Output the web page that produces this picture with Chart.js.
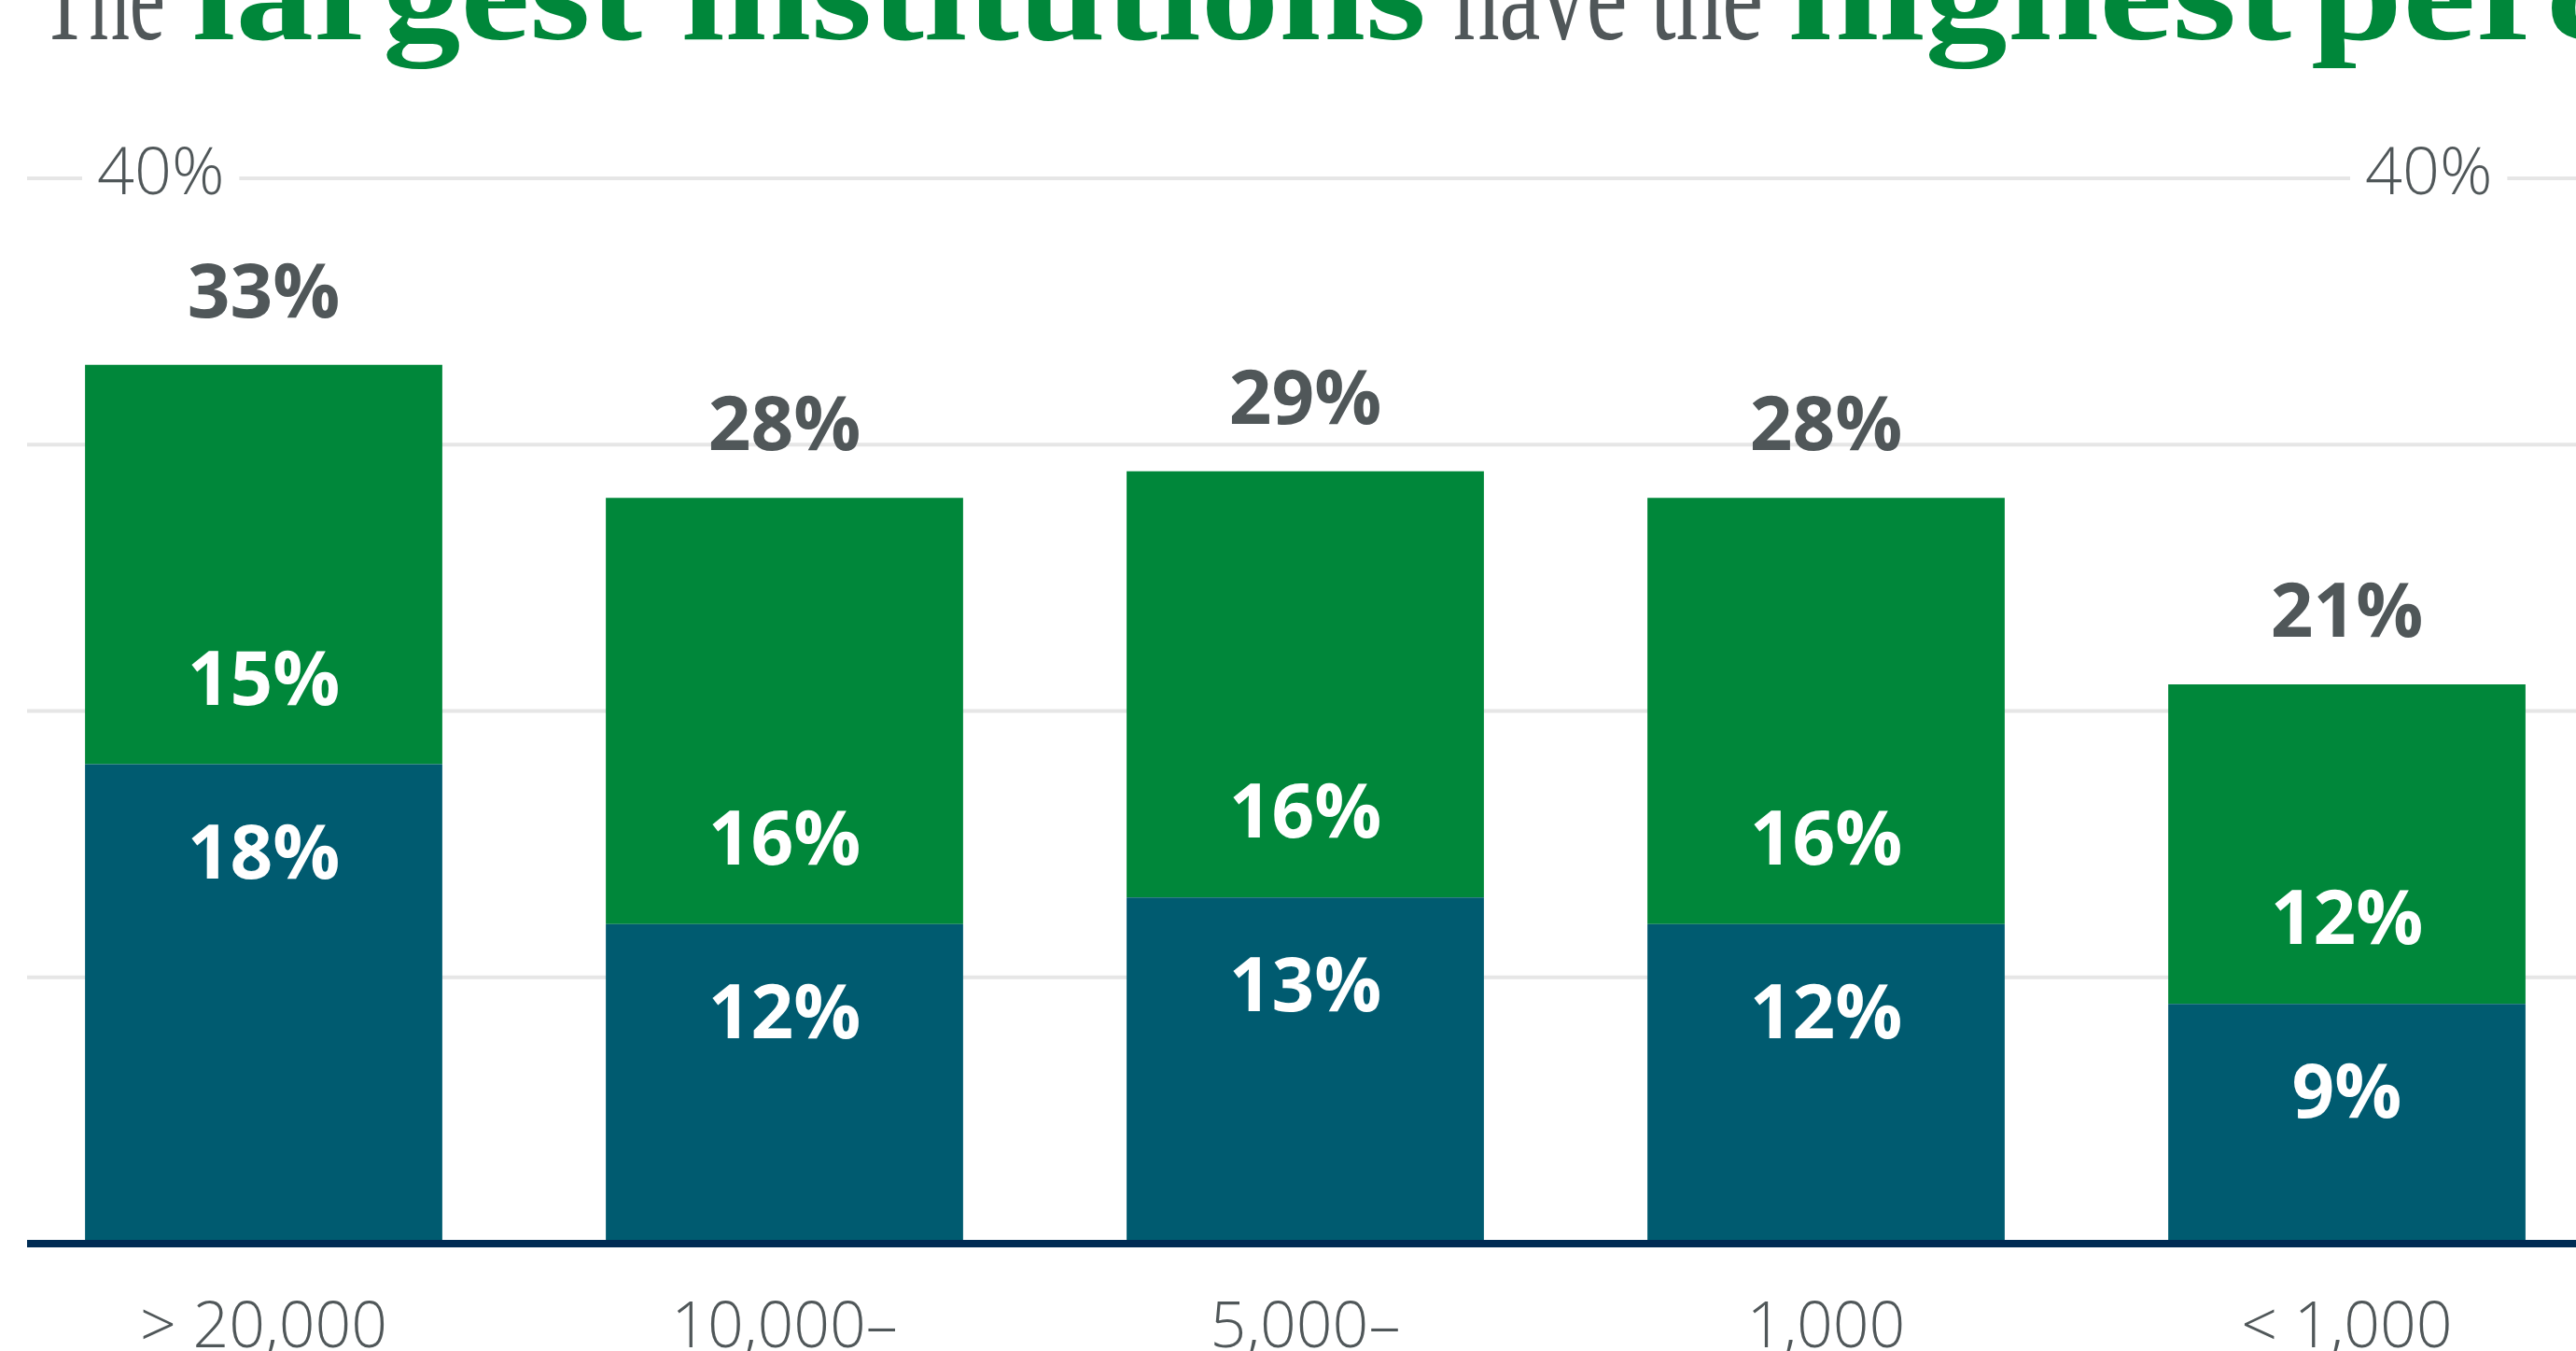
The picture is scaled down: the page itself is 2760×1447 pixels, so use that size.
<!DOCTYPE html>
<html>
<head>
<meta charset="utf-8">
<script src="https://cdn.jsdelivr.net/npm/chart.js@4.4.1/dist/chart.umd.min.js"></script>
<style>
    html, body { margin: 0; padding: 0; background: #fff; overflow: hidden; }
    #wrap { position: relative; width: 2800px; height: 1500px; }
</style>
</head>
<body>
<div id="wrap"><canvas id="chart" width="2800" height="1500"></canvas></div>
<script>
// Chart data
const categories = ['> 20,000', '10,000–', '5,000–', '1,000', '< 1,000'];
const blueValues = [18, 12, 13, 12, 9];
const greenValues = [15, 16, 16, 16, 12];
const totalValues = [33, 28, 29, 28, 21];
const gridTicks = [10, 20, 30, 40];
const labeledTick = 40;

const GRAY = '#505759';
const GREEN = '#00873a';
const BLUE = '#005b70';

// Title, drawn in pieces (gray light / green bold)
const titlePlugin = {
    id: 'titlePieces',
    afterDraw(chart) {
        const ctx = chart.ctx;
        const baseline = 42;
        const pieces = [
            { text: 'The', x: 43, w: 134, bold: false },
            { text: 'largest institutions', x: 206, w: 1322, bold: true },
            { text: 'have the', x: 1557, w: 332, bold: false },
            { text: 'highest', x: 1915, w: 540, bold: true },
            { text: 'percentage', x: 2476, w: null, bold: true }
        ];
        let lastBoldScale = 1;
        ctx.save();
        ctx.textAlign = 'left';
        ctx.textBaseline = 'alphabetic';
        pieces.forEach(p => {
            ctx.font = p.bold ? 'bold 145px "Liberation Serif"' : '300 140px "Liberation Serif"';
            ctx.fillStyle = p.bold ? GREEN : GRAY;
            const natural = ctx.measureText(p.text).width;
            let sx = p.w ? p.w / natural : lastBoldScale;
            if (p.bold && p.w) lastBoldScale = sx;
            ctx.save();
            ctx.translate(p.x, baseline);
            ctx.scale(sx, 1);
            ctx.fillText(p.text, 0, 0);
            ctx.restore();
        });
        ctx.restore();
    }
};

// Gridlines with the 40% labels cut into the line
const gridPlugin = {
    id: 'gridLines',
    beforeDatasetsDraw(chart) {
        const ctx = chart.ctx;
        const y = chart.scales.y;
        ctx.save();
        gridTicks.forEach(v => {
            const py = y.getPixelForValue(v);
            ctx.fillStyle = '#e6e6e6';
            ctx.fillRect(29, py - 2, chart.width, 4);
            if (v === labeledTick) {
                ctx.font = '300 70px "Open Sans"';
                ctx.textAlign = 'left';
                ctx.textBaseline = 'alphabetic';
                const txt = v + '%';
                const tw = ctx.measureText(txt).width;
                [104, 2534].forEach(lx => {
                    ctx.fillStyle = '#fff';
                    ctx.fillRect(lx - 16, py - 4, tw + 32, 8);
                    ctx.fillStyle = GRAY;
                    ctx.fillText(txt, lx, py + 17);
                });
            }
        });
        ctx.restore();
    }
};

// Baseline under the bars
const axisPlugin = {
    id: 'axisLine',
    afterDatasetsDraw(chart) {
        const ctx = chart.ctx;
        const y0 = chart.scales.y.getPixelForValue(0);
        ctx.save();
        ctx.fillStyle = '#002c54';
        ctx.fillRect(29, y0 - 4, chart.width, 8);
        ctx.restore();
    }
};

// Value labels on and above the bars
const valueLabels = {
    id: 'valueLabels',
    afterDatasetsDraw(chart) {
        const ctx = chart.ctx;
        const blueBars = chart.getDatasetMeta(0).data;
        const greenBars = chart.getDatasetMeta(1).data;
        ctx.save();
        ctx.font = '700 80px "Open Sans"';
        ctx.textAlign = 'center';
        ctx.textBaseline = 'alphabetic';
        blueBars.forEach((bar, i) => {
            const split = bar.y;
            ctx.fillStyle = '#fff';
            ctx.fillText(blueValues[i] + '%', bar.x, split + 122);
            ctx.fillText(greenValues[i] + '%', bar.x, split - 64);
            ctx.fillStyle = GRAY;
            ctx.fillText(totalValues[i] + '%', bar.x, greenBars[i].y - 51);
        });
        ctx.restore();
    }
};

const ctx = document.getElementById('chart').getContext('2d');
new Chart(ctx, {
    type: 'bar',
    data: {
        labels: categories,
        datasets: [{
            label: 'Blue',
            data: blueValues,
            backgroundColor: BLUE,
            borderWidth: 0
        }, {
            label: 'Green',
            data: greenValues,
            backgroundColor: GREEN,
            borderWidth: 0
        }]
    },
    options: {
        responsive: false,
        animation: false,
        layout: {
            padding: { top: 191, left: 3.5, right: 6.5, bottom: 0 }
        },
        datasets: {
            bar: {
                categoryPercentage: 1,
                barPercentage: 0.686
            }
        },
        plugins: {
            legend: { display: false },
            tooltip: { enabled: false }
        },
        scales: {
            x: {
                stacked: true,
                grid: { display: false, drawTicks: false },
                border: { display: false },
                ticks: {
                    color: GRAY,
                    padding: 51,
                    font: { family: 'Open Sans', size: 68, weight: 300 }
                },
                afterFit(scale) {
                    scale.height = 168;
                }
            },
            y: {
                stacked: true,
                display: false,
                min: 0,
                max: 40
            }
        }
    },
    plugins: [gridPlugin, axisPlugin, valueLabels, titlePlugin]
});
</script>
</body>
</html>
